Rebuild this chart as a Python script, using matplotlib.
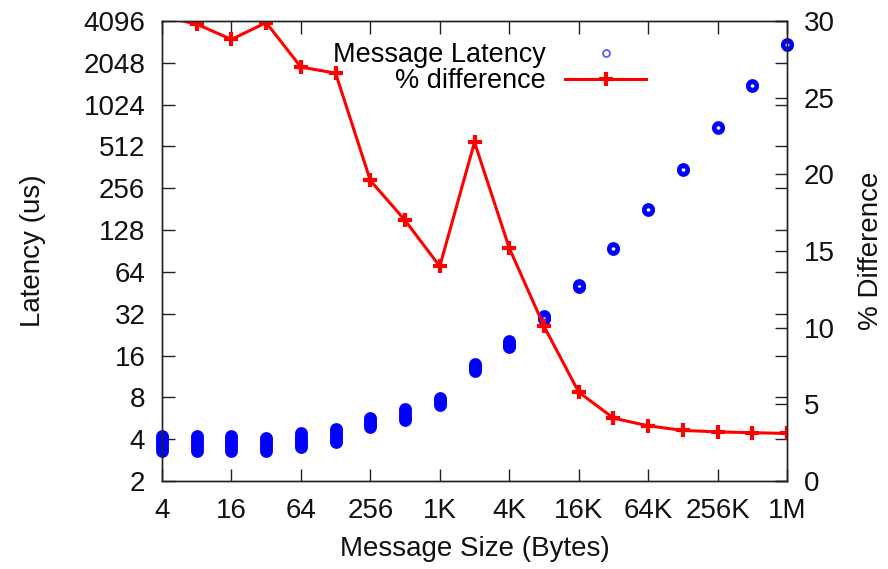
import numpy as np
import matplotlib.pyplot as plt
from matplotlib.lines import Line2D
from matplotlib.ticker import FixedLocator, FixedFormatter, NullLocator

plt.rcParams['font.family'] = ['Liberation Sans', 'DejaVu Sans']

# message sizes (bytes)
sizes = [4, 8, 16, 32, 64, 128, 256, 512, 1024, 2048, 4096, 8192,
         16384, 32768, 65536, 131072, 262144, 524288, 1048576]

# latency samples per message size (us)
latency_samples = [
    [3.3, 3.45, 3.6, 3.75, 3.9, 4.05, 4.2],
    [3.3, 3.45, 3.6, 3.75, 3.9, 4.05, 4.2],
    [3.3, 3.45, 3.6, 3.75, 3.9, 4.05, 4.2],
    [3.3, 3.45, 3.6, 3.75, 3.9, 4.0, 4.1],
    [3.5, 3.65, 3.8, 3.95, 4.1, 4.25, 4.4],
    [3.8, 3.95, 4.1, 4.25, 4.4, 4.55, 4.7],
    [4.9, 5.05, 5.2, 5.4, 5.55, 5.7],
    [5.5, 5.7, 5.9, 6.1, 6.35, 6.6],
    [7.1, 7.3, 7.5, 7.7, 7.9],
    [12.3, 12.7, 13.1, 13.5, 13.9],
    [18.3, 18.8, 19.3, 19.8, 20.4],
    [29.3, 29.8, 30.3, 30.8],
    [49.5, 50.5, 51.5],
    [94, 95.5],
    [179, 182],
    [348, 355],
    [700, 712],
    [1390, 1410],
    [2740, 2780],
]

# percent difference per message size
pct_diff = [30.3, 29.8, 28.8, 29.9, 27.0, 26.6, 19.6, 17.0, 14.0, 22.1,
            15.2, 10.1, 5.8, 4.1, 3.6, 3.3, 3.2, 3.15, 3.1]

x_ticks = [4, 16, 64, 256, 1024, 4096, 16384, 65536, 262144, 1048576]
x_tick_labels = ['4', '16', '64', '256', '1K', '4K', '16K', '64K', '256K', '1M']
lat_ticks = [2, 4, 8, 16, 32, 64, 128, 256, 512, 1024, 2048, 4096]
pct_ticks = [0, 5, 10, 15, 20, 25, 30]

fig = plt.figure(figsize=(8.88, 5.69), dpi=100)
fig.subplots_adjust(left=0.1824, right=0.8863, top=0.963, bottom=0.1547)
ax = fig.add_subplot(111)
ax2 = ax.twinx()

# latency points
for s, samples in zip(sizes, latency_samples):
    ax.plot(np.full(len(samples), s), samples, ls='none', marker='o',
            ms=6.2, mfc='none', mec='#0000ff', mew=3.0, clip_on=False)

# percent difference line
ax2.plot(sizes, pct_diff, color='#ff0000', lw=2.2, marker='+', ms=10, mew=3.0)

ax.set_xscale('log', base=2)
ax.set_yscale('log', base=2)
ax.set_xlim(4, 1048576)
ax.set_ylim(2, 4096)
ax2.set_ylim(0, 30)

ax.xaxis.set_major_locator(FixedLocator(x_ticks))
ax.xaxis.set_major_formatter(FixedFormatter(x_tick_labels))
ax.xaxis.set_minor_locator(NullLocator())
ax.yaxis.set_major_locator(FixedLocator(lat_ticks))
ax.yaxis.set_major_formatter(FixedFormatter([str(v) for v in lat_ticks]))
ax.yaxis.set_minor_locator(NullLocator())
ax2.yaxis.set_major_locator(FixedLocator(pct_ticks))
ax2.yaxis.set_minor_locator(NullLocator())

ax.tick_params(axis='x', which='both', direction='in', length=9, width=1,
               top=True, labelsize=20, pad=12, colors='#222222', labelcolor='#111111')
ax.tick_params(axis='y', which='both', direction='in', length=9, width=1,
               right=True, labelright=False, labelsize=20, pad=12,
               colors='#222222', labelcolor='#111111')
ax2.tick_params(axis='y', which='both', direction='in', length=9, width=1,
                labelsize=20, pad=12, colors='#222222', labelcolor='#111111')

for a in (ax, ax2):
    for sp in a.spines.values():
        sp.set_linewidth(1.0)
        sp.set_color('#222222')

ax.set_xlabel('Message Size (Bytes)', fontsize=20, labelpad=9, color='#111111')
ax.set_ylabel('Latency (us)', fontsize=20, labelpad=27, color='#111111')
ax2.set_ylabel('% Difference', fontsize=20, labelpad=17, color='#111111')

lat_handle = Line2D([], [], ls='none', marker='o', ms=5, mfc='none',
                    mec='#5a5aff', mew=1.3)
pct_handle = Line2D([], [], color='#ff0000', lw=2.2, marker='+', ms=10, mew=3.0)
ax2.legend([lat_handle, pct_handle], ['Message Latency', '% difference'],
           loc='upper right', bbox_to_anchor=(0.805, 0.995), frameon=False,
           markerfirst=False, numpoints=1, fontsize=19.5, handlelength=3.0,
           handletextpad=0.7, labelspacing=0.0, borderpad=0.2)

fig.savefig('out.png', dpi=100)
